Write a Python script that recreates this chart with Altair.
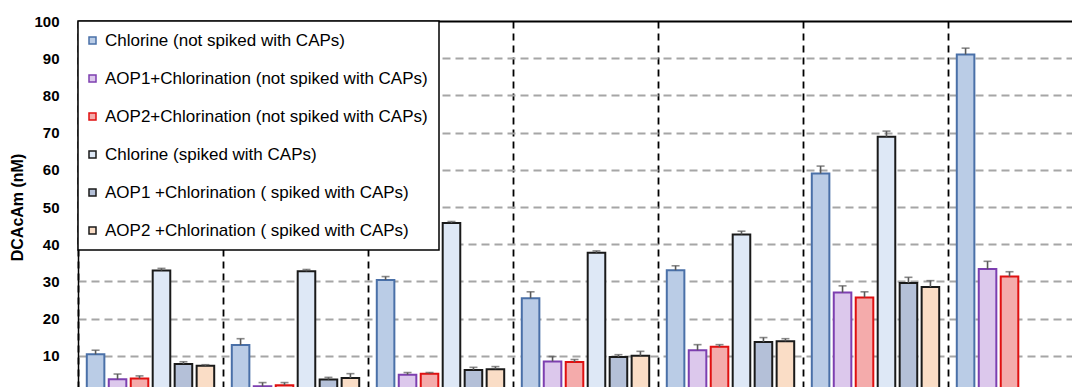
import altair as alt
import pandas as pd

# ---- data ----
groups = ["Sample 1", "Sample 2", "Sample 3", "Sample 4", "Sample 5", "Sample 6", "Sample 7"]
series = [
    "Chlorine (not spiked with CAPs)",
    "AOP1+Chlorination (not spiked with CAPs)",
    "AOP2+Chlorination (not spiked with CAPs)",
    "Chlorine (spiked with CAPs)",
    "AOP1 +Chlorination ( spiked with CAPs)",
    "AOP2 +Chlorination ( spiked with CAPs)",
]
chlorine_ns = [10.4, 12.9, 30.4, 25.5, 33.0, 59.0, 91.0]
chlorine_ns_err = [1.1, 1.7, 0.9, 1.7, 1.2, 2.0, 1.7]
aop1_ns = [3.7, 1.8, 4.9, 8.5, 11.5, 27.0, 33.3]
aop1_ns_err = [1.4, 1.0, 0.6, 1.3, 1.5, 1.8, 2.1]
aop2_ns = [3.9, 2.1, 5.2, 8.3, 12.4, 25.7, 31.3]
aop2_ns_err = [0.7, 0.7, 0.3, 0.7, 0.6, 1.5, 1.3]
chlorine_sp = [32.9, 32.7, 45.7, 37.7, 42.6, 68.9, None]
chlorine_sp_err = [0.6, 0.5, 0.4, 0.5, 0.9, 1.5, None]
aop1_sp = [7.8, 3.6, 6.2, 9.7, 13.7, 29.6, None]
aop1_sp_err = [0.6, 0.6, 0.7, 0.6, 1.2, 1.5, None]
aop2_sp = [7.3, 4.0, 6.4, 10.0, 13.9, 28.5, None]
aop2_sp_err = [0.3, 1.2, 0.7, 1.2, 0.7, 1.7, None]
y_ticks = [0, 10, 20, 30, 40, 50, 60, 70, 80, 90, 100]

fill_colors = ["#BACCE6", "#DCC8EC", "#F4ABAB", "#DEE8F6", "#B4C0D8", "#FADDC6"]
stroke_colors = ["#4A70A8", "#7D3FB0", "#E01010", "#1A1A1A", "#1A1A1A", "#1A1A1A"]

values = [chlorine_ns, aop1_ns, aop2_ns, chlorine_sp, aop1_sp, aop2_sp]
errors = [chlorine_ns_err, aop1_ns_err, aop2_ns_err, chlorine_sp_err, aop1_sp_err, aop2_sp_err]

rows = []
for s, vals, errs in zip(series, values, errors):
    for g, v, e in zip(groups, vals, errs):
        if v is None:
            continue
        rows.append({"group": g, "series": s, "value": v, "err": e})
df = pd.DataFrame(rows)

FONT = "Liberation Sans"

legend = alt.Legend(
    title=None, orient="none", legendX=0, legendY=0, direction="vertical",
    symbolType="square", symbolSize=49, symbolStrokeWidth=1.5, symbolOffset=-5,
    labelFont=FONT, labelFontSize=17, labelColor="black", labelOffset=4,
    labelLimit=0, rowPadding=20, padding=11,
    strokeColor="black", fillColor="white",
)

y_axis = alt.Axis(
    title="DCAcAm (nM)", values=y_ticks, ticks=False, labelOverlap=False,
    domain=True, domainColor="black", domainWidth=1.5,
    labelFont=FONT, labelFontSize=15, labelFontWeight="bold", labelColor="black",
    labelPadding=19,
    titleFont=FONT, titleFontSize=16, titleFontWeight="bold", titleColor="black",
    titlePadding=8,
    grid=True, gridWidth=1.8,
    gridColor={"condition": {"test": "datum.value >= 100", "value": "black"}, "value": "#A6A6A6"},
    gridDash={"condition": {"test": "datum.value >= 100", "value": [1, 0]}, "value": [8, 5]},
)
y_scale = alt.Scale(domain=[0, 100])

base = alt.Chart(df).transform_calculate(top="datum.value + datum.err").encode(
    x=alt.X(
        "group:N",
        sort=groups,
        scale=alt.Scale(domain=groups, range=[0, 1015], paddingInner=0, paddingOuter=0),
        axis=alt.Axis(
            title=None, labels=False, ticks=False, domain=False,
            grid=True, gridColor="black", gridDash=[7, 5], gridWidth=1.8,
            bandPosition=0,
        ),
    ),
    xOffset=alt.XOffset(
        "series:N", scale=alt.Scale(domain=series, paddingInner=0.2, paddingOuter=0.4)
    ),
)

bars = base.mark_bar(strokeWidth=2, clip=True).encode(
    y=alt.Y("value:Q", scale=y_scale, axis=y_axis),
    fill=alt.Fill("series:N", scale=alt.Scale(domain=series, range=fill_colors), legend=legend),
    stroke=alt.Stroke("series:N", scale=alt.Scale(domain=series, range=stroke_colors), legend=legend),
)

err_rule = base.mark_rule(color="#595959", strokeWidth=1.6).encode(
    y=alt.Y("value:Q", scale=y_scale, axis=y_axis), y2="top:Q"
)
err_cap = base.mark_tick(color="#595959", thickness=1.6, size=8).encode(
    y=alt.Y("top:Q", scale=y_scale, axis=y_axis)
)

chart = (
    alt.layer(bars, err_rule, err_cap)
    .properties(
        width=994, height=372,
        autosize=alt.AutoSizeParams(type="none"),
        padding={"left": 70, "top": 13, "right": 0, "bottom": 0},
    )
    .configure_view(stroke=None)
    .configure_legend(strokeWidth=1.5)
)

chart.save("out.html", embed_options={"renderer": "svg", "actions": False})
